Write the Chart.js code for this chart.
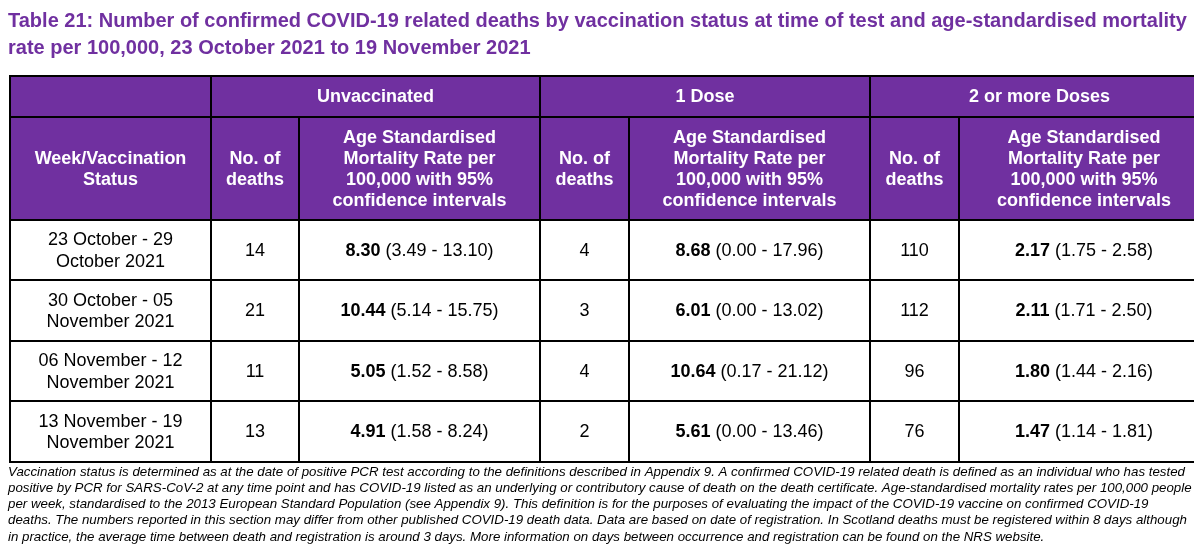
<!DOCTYPE html>
<html>
<head>
<meta charset="utf-8">
<script src="https://cdn.jsdelivr.net/npm/chart.js@4.4.0/dist/chart.umd.min.js"></script>
<style>
  html, body { margin: 0; padding: 0; background: #fff; }
  canvas { display: block; }
</style>
</head>
<body>
<canvas id="tbl" width="1194" height="556"></canvas>
<script>
var titleLines = [
    'Table 21: Number of confirmed COVID-19 related deaths by vaccination status at time of test and age-standardised mortality',
    'rate per 100,000, 23 October 2021 to 19 November 2021'
];
var groups = ['Unvaccinated', '1 Dose', '2 or more Doses'];
var weekHead = ['Week/Vaccination', 'Status'];
var deathsHead = ['No. of', 'deaths'];
var rateHead = ['Age Standardised', 'Mortality Rate per', '100,000 with 95%', 'confidence intervals'];
var weeks = [
    ['23 October - 29', 'October 2021'],
    ['30 October - 05', 'November 2021'],
    ['06 November - 12', 'November 2021'],
    ['13 November - 19', 'November 2021']
];
var unvaxDeaths = [14, 21, 11, 13];
var unvaxRate = [8.30, 10.44, 5.05, 4.91];
var unvaxLow = [3.49, 5.14, 1.52, 1.58];
var unvaxHigh = [13.10, 15.75, 8.58, 8.24];
var oneDoseDeaths = [4, 3, 4, 2];
var oneDoseRate = [8.68, 6.01, 10.64, 5.61];
var oneDoseLow = [0.00, 0.00, 0.17, 0.00];
var oneDoseHigh = [17.96, 13.02, 21.12, 13.46];
var twoDoseDeaths = [110, 112, 96, 76];
var twoDoseRate = [2.17, 2.11, 1.80, 1.47];
var twoDoseLow = [1.75, 1.71, 1.44, 1.14];
var twoDoseHigh = [2.58, 2.50, 2.16, 1.81];
var footnote = [
    'Vaccination status is determined as at the date of positive PCR test according to the definitions described in Appendix 9. A confirmed COVID-19 related death is defined as an individual who has tested',
    'positive by PCR for SARS-CoV-2 at any time point and has COVID-19 listed as an underlying or contributory cause of death on the death certificate. Age-standardised mortality rates per 100,000 people',
    'per week, standardised to the 2013 European Standard Population (see Appendix 9). This definition is for the purposes of evaluating the impact of the COVID-19 vaccine on confirmed COVID-19',
    'deaths. The numbers reported in this section may differ from other published COVID-19 death data. Data are based on date of registration. In Scotland deaths must be registered within 8 days although',
    'in practice, the average time between death and registration is around 3 days. More information on days between occurrence and registration can be found on the NRS website.'
];

// layout (table units = px)
var colWidths = [201, 88, 241, 89, 241, 89, 250];
var rowHeights = [41, 103, 60, 61, 60, 61];
var purple = '#7030A0';
var FONT = '"Liberation Sans", Arial, sans-serif';

function edges(sizes) {
    var e = [0];
    sizes.forEach(function (s) { e.push(e[e.length - 1] + s); });
    return e;
}
var colEdge = edges(colWidths);
var rowEdge = edges(rowHeights);

var deathCols = [unvaxDeaths, oneDoseDeaths, twoDoseDeaths];
var rateCols = [
    [unvaxRate, unvaxLow, unvaxHigh],
    [oneDoseRate, oneDoseLow, oneDoseHigh],
    [twoDoseRate, twoDoseLow, twoDoseHigh]
];

var tablePlugin = {
    id: 'tablePlugin',
    beforeDraw: function (chart) {
        var c = chart.ctx;
        c.save();
        c.fillStyle = '#fff';
        c.fillRect(0, 0, chart.width, chart.height);
        c.restore();
    },
    afterDraw: function (chart) {
        var c = chart.ctx;
        var xs = chart.scales.x, ys = chart.scales.y;
        function box(c0, c1, r0, r1) {
            var x0 = xs.getPixelForValue(colEdge[c0]), x1 = xs.getPixelForValue(colEdge[c1]);
            var y0 = ys.getPixelForValue(rowEdge[r0]), y1 = ys.getPixelForValue(rowEdge[r1]);
            return { x: x0, y: y0, w: x1 - x0, h: y1 - y0, cx: (x0 + x1) / 2, cy: (y0 + y1) / 2 };
        }
        function lines(b, arr, font, color) {
            c.font = font;
            c.fillStyle = color;
            c.textAlign = 'center';
            c.textBaseline = 'middle';
            var lh = 21.3;
            var top = b.cy - (arr.length - 1) * lh / 2;
            arr.forEach(function (t, i) { c.fillText(t, b.cx, top + i * lh + 1); });
        }
        function mixed(b, parts) {
            c.textBaseline = 'middle';
            c.textAlign = 'left';
            var total = 0;
            parts.forEach(function (p) { c.font = p.font; total += c.measureText(p.text).width; });
            var x = b.cx - total / 2;
            parts.forEach(function (p) {
                c.font = p.font;
                c.fillStyle = '#000';
                c.fillText(p.text, x, b.cy + 1);
                x += c.measureText(p.text).width;
            });
        }

        c.save();
        // title
        c.fillStyle = purple;
        c.font = 'bold 20px ' + FONT;
        c.textAlign = 'left';
        c.textBaseline = 'alphabetic';
        c.fillText(titleLines[0], 8, 27);
        c.fillText(titleLines[1], 8, 54);

        // header fill
        var hdr = box(0, 7, 0, 2);
        c.fillStyle = purple;
        c.fillRect(hdr.x, hdr.y, hdr.w, hdr.h);

        var boxes = [];
        // header row 1
        boxes.push(box(0, 1, 0, 1));
        groups.forEach(function (g, i) {
            var b = box(1 + i * 2, 3 + i * 2, 0, 1);
            boxes.push(b);
            lines(b, [g], 'bold 18px ' + FONT, '#fff');
        });
        // header row 2
        var wb = box(0, 1, 1, 2);
        boxes.push(wb);
        lines(wb, weekHead, 'bold 18px ' + FONT, '#fff');
        for (var g = 0; g < 3; g++) {
            var db = box(1 + g * 2, 2 + g * 2, 1, 2);
            var rb = box(2 + g * 2, 3 + g * 2, 1, 2);
            boxes.push(db, rb);
            lines(db, deathsHead, 'bold 18px ' + FONT, '#fff');
            lines(rb, rateHead, 'bold 18px ' + FONT, '#fff');
        }
        // body
        weeks.forEach(function (w, r) {
            var b0 = box(0, 1, 2 + r, 3 + r);
            boxes.push(b0);
            lines(b0, w, '18px ' + FONT, '#000');
            for (var g = 0; g < 3; g++) {
                var db = box(1 + g * 2, 2 + g * 2, 2 + r, 3 + r);
                var rb = box(2 + g * 2, 3 + g * 2, 2 + r, 3 + r);
                boxes.push(db, rb);
                lines(db, [String(deathCols[g][r])], '18px ' + FONT, '#000');
                var rc = rateCols[g];
                mixed(rb, [
                    { text: rc[0][r].toFixed(2), font: 'bold 18px ' + FONT },
                    { text: ' (' + rc[1][r].toFixed(2) + ' - ' + rc[2][r].toFixed(2) + ')', font: '18px ' + FONT }
                ]);
            }
        });
        // borders
        c.strokeStyle = '#000';
        c.lineWidth = 2;
        boxes.forEach(function (b) { c.strokeRect(b.x, b.y, b.w, b.h); });

        // footnote
        c.fillStyle = '#000';
        c.font = 'italic 13.3px ' + FONT;
        c.textAlign = 'left';
        c.textBaseline = 'alphabetic';
        footnote.forEach(function (t, i) { c.fillText(t, 8, 475.5 + i * 16.3); });
        c.restore();
    }
};

var ctx = document.getElementById('tbl').getContext('2d');
var table = new Chart(ctx, {
    type: 'scatter',
    data: { datasets: [] },
    options: {
        responsive: false,
        animation: false,
        devicePixelRatio: 1,
        layout: { padding: { left: 10, top: 76, right: 0, bottom: 94 } },
        scales: {
            x: { type: 'linear', display: false, min: 0, max: 1184 },
            y: { type: 'linear', display: false, min: 0, max: 386, reverse: true }
        },
        plugins: { legend: { display: false }, tooltip: { enabled: false } }
    },
    plugins: [tablePlugin]
});
</script>
</body>
</html>
